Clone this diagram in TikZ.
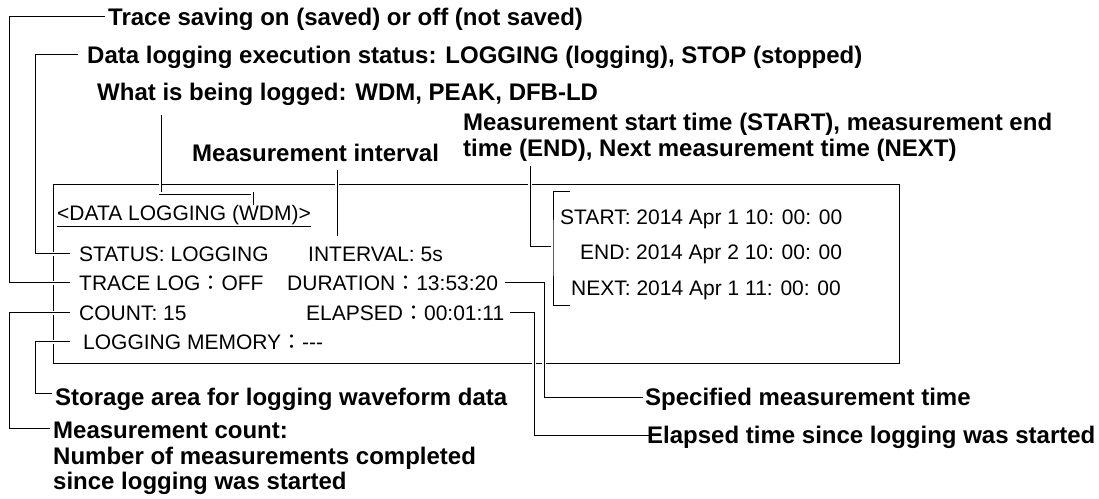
\documentclass[tikz,border=0pt]{standalone}
\usepackage{fontspec}
\setmainfont{Liberation Sans}
\newfontfamily\cjk{Noto Sans CJK JP}
\newcommand{\fwc}{{\cjk ：}}
\pgfdeclarelayer{bg}
\pgfdeclarelayer{mid}
\pgfsetlayers{bg,mid,main}
\begin{document}
\begin{tikzpicture}[x=1pt,y=1pt,
  lbl/.style={font=\bfseries\fontsize{24}{28}\selectfont, anchor=west, inner sep=0pt, text height=17pt, text depth=0pt},
  scr/.style={font=\fontsize{21}{25}\selectfont, anchor=west, inner sep=0pt, text height=15pt, text depth=0pt},
  conn/.style={line width=1pt, preaction={draw=white, line width=4pt}},
  dbl/.style={line width=0.7pt, double=white, double distance=1.6pt},
  frame/.style={draw, line width=1pt}
]
\useasboundingbox (0,0) rectangle (1099,498);

% labels
\node[lbl] (trace) at (108,481) {Trace saving on (saved) or off (not saved)};
\node[lbl] (datalog) at (87,443) {Data logging execution status: LOGGING (logging), STOP (stopped)};
\node[lbl] (what) at (97,406) {What is being logged: WDM, PEAK, DFB-LD};
\node[lbl] (interval) at (192,345) {Measurement interval};
\node[lbl] (start1) at (463,376) {Measurement start time (START), measurement end};
\node[lbl] (start2) at (463,350) {time (END), Next measurement time (NEXT)};
\node[lbl] (spec) at (645,101) {Specified measurement time};
\node[lbl] (elapsed) at (647,63) {Elapsed time since logging was started};
\node[lbl] (storage) at (55,101) {Storage area for logging waveform data};
\node[lbl] (count1) at (53,68) {Measurement count:};
\node[lbl] (count2) at (53,42) {Number of measurements completed};
\node[lbl] (count3) at (53,17) {since logging was started};

% screen
\node[scr] (dl) at (57,285) {<DATA LOGGING (WDM)>};
\node[scr] (status) at (79,244) {STATUS: LOGGING};
\node[scr] (intervalv) at (308,244) {INTERVAL: 5s};
\node[scr] (tracelog) at (79,215) {TRACE LOG\fwc OFF};
\node[scr] (duration) at (287,215) {DURATION\fwc 13:53:20};
\node[scr] (count) at (79,185) {COUNT: 15};
\node[scr] (elapsedv) at (306,185) {ELAPSED\fwc 00:01:11};
\node[scr] (memory) at (83,156) {LOGGING MEMORY\fwc -{}-{}-};
\node[scr] (start) at (560,281) {START: 2014 Apr 1 10: 00: 00};
\node[scr] (end) at (580,246) {END: 2014 Apr 2 10: 00: 00};
\node[scr] (next) at (571,210) {NEXT: 2014 Apr 1 11: 00: 00};

\coordinate (k1) at (9,0);
\coordinate (k2) at (35,0);
\coordinate (k3) at (544,0);
\coordinate (k4) at (534,0);
\coordinate (bt) at (570,306);
\coordinate (bb) at (570,192);
\coordinate (bm) at (553,251);

\begin{pgfonlayer}{bg}
\draw[frame] (53,313) rectangle (899,135);
\draw[line width=1pt] ([yshift=-5.5pt]dl.south west) -- ([yshift=-5.5pt]dl.south east);
\end{pgfonlayer}

\begin{pgfonlayer}{mid}
\draw[conn] ([xshift=-3pt]trace.west) -| (k1 |- tracelog.west) -- ([xshift=-9pt]tracelog.west);
\draw[conn] ([xshift=-9pt]datalog.west) -| (k2 |- status.west) -- ([xshift=-9pt]status.west);
\draw[dbl] ([xshift=63pt,yshift=-14pt]what.south west) |- ([xshift=195pt,yshift=12pt]dl.north west) -- ([xshift=195pt]dl.north west);
\draw[conn] ([xshift=145pt,yshift=-8pt]interval.south west) -- ([xshift=29pt,yshift=10pt]intervalv.north west);
\draw[conn] ([xshift=67pt,yshift=-9pt]start2.south west) |- (bm);
\draw[conn] (bt) -| (bm) |- (bb);
\draw[conn] ([xshift=7pt]duration.east) -| (k3 |- spec.west) -- ([xshift=-2pt]spec.west);
\draw[conn] ([xshift=6pt]elapsedv.east) -| (k4 |- elapsed.west) -- ([xshift=2pt]elapsed.west);
\draw[conn] ([xshift=-13pt]memory.west) -| ([yshift=4pt]k2 |- storage.west) -- ([xshift=-3pt,yshift=4pt]storage.west);
\draw[conn] ([xshift=-9pt]count.west) -| ([yshift=2pt]k1 |- count1.west) -- ([xshift=-3pt,yshift=2pt]count1.west);
\end{pgfonlayer}
\end{tikzpicture}
\end{document}
